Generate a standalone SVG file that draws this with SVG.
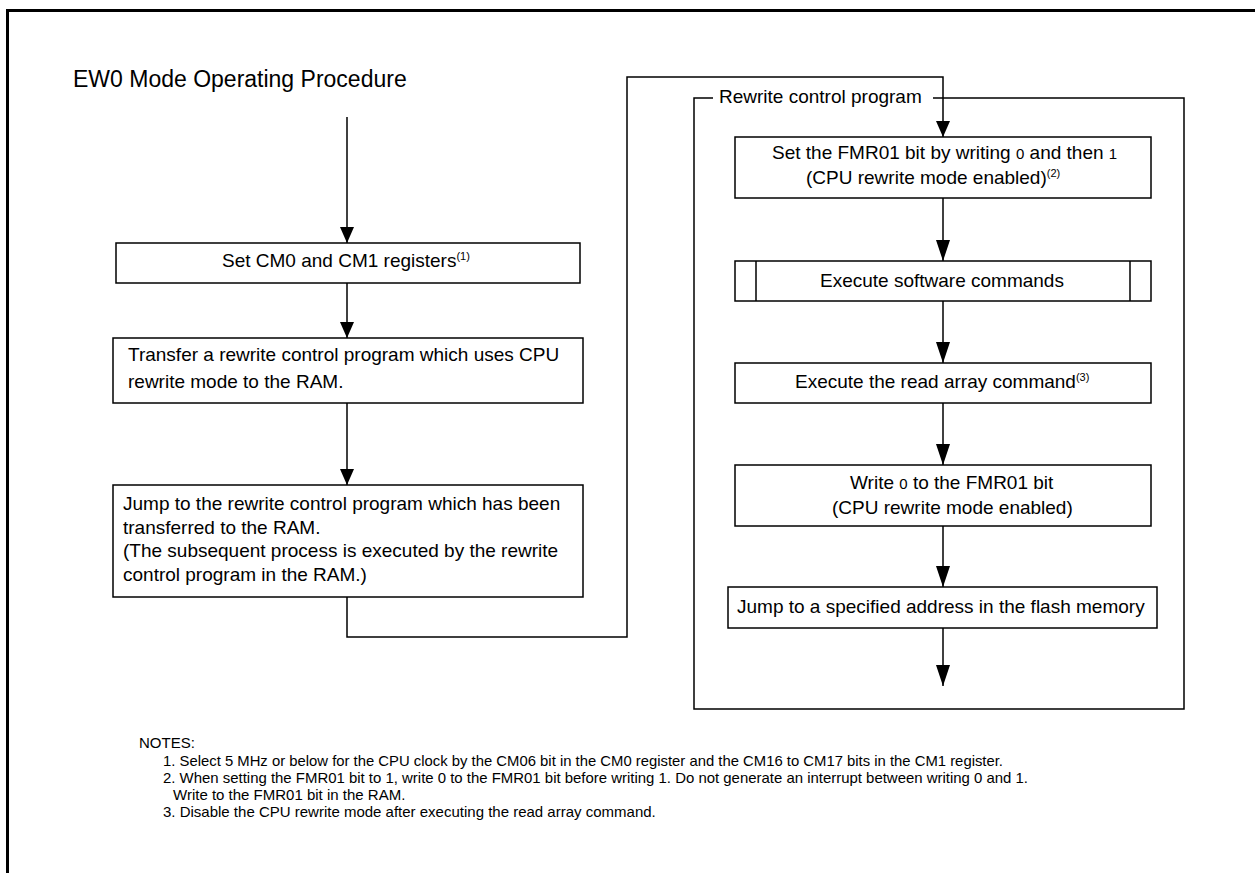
<svg xmlns="http://www.w3.org/2000/svg" width="1255" height="873" viewBox="0 0 1255 873">
<defs>
<style>
.box{fill:#fff;stroke:#000;stroke-width:1.5}
.ln{fill:none;stroke:#000;stroke-width:1.5}
.t{font-family:"Liberation Sans",Arial,sans-serif;font-size:19px;fill:#000}
.n{font-size:15px}
.sup{font-size:11px}
.dg{font-size:15px}
</style>
<marker id="ahS" markerUnits="userSpaceOnUse" markerWidth="16" markerHeight="14" refX="16" refY="7" orient="auto"><path d="M0,0 L16,7 L0,14 z" fill="#000"/></marker>
<marker id="ahL" markerUnits="userSpaceOnUse" markerWidth="21" markerHeight="14" refX="21" refY="7" orient="auto"><path d="M0,0 L21,7 L0,14 z" fill="#000"/></marker>
</defs>
<rect width="1255" height="873" fill="#fff"/>
<path d="M7.5,873 V10.5 H1255" fill="none" stroke="#000" stroke-width="3"/>
<text class="t" x="73" y="87" font-size="23" style="font-size:23px">EW0 Mode Operating Procedure</text>

<g id="group-rewrite">
<path class="ln" d="M713,98 H694 V709 H1184 V98 H933"/>
<text class="t" x="719" y="103">Rewrite control program</text>
</g>

<g id="connectors">
<path class="ln" d="M347,117 V243" marker-end="url(#ahS)"/>
<path class="ln" d="M347,283 V338" marker-end="url(#ahS)"/>
<path class="ln" d="M347,403 V485" marker-end="url(#ahS)"/>
<path class="ln" d="M347,597 V637 H627 V77 H943 V137" marker-end="url(#ahS)"/>
<path class="ln" d="M943,198 V261" marker-end="url(#ahL)"/>
<path class="ln" d="M943,301 V363" marker-end="url(#ahL)"/>
<path class="ln" d="M943,403 V465" marker-end="url(#ahL)"/>
<path class="ln" d="M943,526 V587" marker-end="url(#ahL)"/>
<path class="ln" d="M943,628 V686" marker-end="url(#ahL)"/>
</g>

<g id="n1">
<rect class="box" x="116" y="243" width="464" height="40"/>
<text class="t" x="222" y="267">Set CM0 and CM1 registers<tspan class="sup" dy="-7">(1)</tspan></text>
</g>
<g id="n2">
<rect class="box" x="113" y="338" width="470" height="65"/>
<text class="t" x="128" y="361">Transfer a rewrite control program which uses CPU</text>
<text class="t" x="128" y="388">rewrite mode to the RAM.</text>
</g>
<g id="n3">
<rect class="box" x="113" y="485" width="470" height="112"/>
<text class="t" x="123" y="510">Jump to the rewrite control program which has been</text>
<text class="t" x="123" y="534">transferred to the RAM.</text>
<text class="t" x="123" y="557">(The subsequent process is executed by the rewrite</text>
<text class="t" x="123" y="581">control program in the RAM.)</text>
</g>
<g id="r1">
<rect class="box" x="735" y="137" width="416" height="61"/>
<text class="t" x="772" y="159">Set the FMR01 bit by writing <tspan class="dg">0</tspan> and then <tspan class="dg">1</tspan></text>
<text class="t" x="806" y="184">(CPU rewrite mode enabled)<tspan class="sup" dy="-7">(2)</tspan></text>
</g>
<g id="r2">
<rect class="box" x="735" y="261" width="416" height="40"/>
<path class="ln" d="M756,261 V301 M1130,261 V301"/>
<text class="t" x="820" y="287">Execute software commands</text>
</g>
<g id="r3">
<rect class="box" x="735" y="363" width="416" height="40"/>
<text class="t" x="795" y="388">Execute the read array command<tspan class="sup" dy="-7">(3)</tspan></text>
</g>
<g id="r4">
<rect class="box" x="735" y="465" width="416" height="61"/>
<text class="t" x="850" y="489">Write <tspan class="dg">0</tspan> to the FMR01 bit</text>
<text class="t" x="832" y="514">(CPU rewrite mode enabled)</text>
</g>
<g id="r5">
<rect class="box" x="728" y="587" width="429" height="41"/>
<text class="t" x="737" y="613">Jump to a specified address in the flash memory</text>
</g>

<g id="notes">
<text class="t n" x="139" y="748">NOTES:</text>
<text class="t n" x="163" y="766" textLength="840" lengthAdjust="spacingAndGlyphs">1. Select 5 MHz or below for the CPU clock by the CM06 bit in the CM0 register and the CM16 to CM17 bits in the CM1 register.</text>
<text class="t n" x="163" y="783" textLength="865" lengthAdjust="spacingAndGlyphs">2. When setting the FMR01 bit to 1, write 0 to the FMR01 bit before writing 1. Do not generate an interrupt between writing 0 and 1.</text>
<text class="t n" x="173" y="800">Write to the FMR01 bit in the RAM.</text>
<text class="t n" x="163" y="817">3. Disable the CPU rewrite mode after executing the read array command.</text>
</g>
</svg>
